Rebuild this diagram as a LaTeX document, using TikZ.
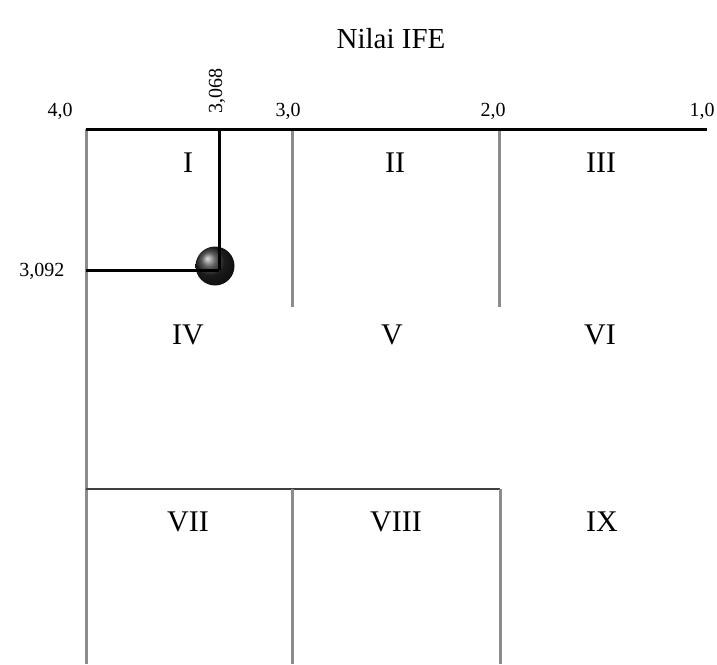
\documentclass[tikz,border=0pt]{standalone}
\usepackage{fontspec}
\setmainfont{Liberation Serif}
\begin{document}
\begin{tikzpicture}[x=1pt,y=-1pt,
		sumbu/.style={line width=3pt,draw=black},
		batas/.style={line width=3pt,draw=gray!90},
		garis/.style={line width=2.2pt,draw=black!75},
		sel/.style={font=\fontsize{30}{33}\selectfont},
		skala/.style={font=\fontsize{20}{22}\selectfont}]
				% Matriks IE
				\useasboundingbox (0,0) rectangle (717,664);
				\node[font=\fontsize{29}{32}\selectfont] (judul) at (391,39) {Nilai IFE};
				
				\coordinate (kiri) at (86,129);
				\coordinate (kanan) at (707,129);
				\coordinate (tiga) at (292,129);
				\coordinate (dua) at (499,129);
				\coordinate (pusat) at (219,270);
				
				\node[skala] (s40) at (60,111) {4,0};
				\node[skala] (s30) at (288,111) {3,0};
				\node[skala] (s20) at (493,111) {2,0};
				\node[skala] (s10) at (702,111) {1,0};
				\node[skala,rotate=90] (sx) at (217,91) {3,068};
				\node[skala] (sy) at (42,271) {3,092};
				
				\draw[batas] (kiri) -- (86,664);
				\draw[batas] (tiga) -- (292,307);
				\draw[batas] (dua) -- (499,307);
				\draw[garis] (86,489) -- (500,489);
				\draw[batas] (292,489) -- (292,664);
				\draw[batas] (500,489) -- (500,664);
				\draw[sumbu] (kiri) -- (kanan);
				
				\node[circle,minimum size=39pt,inner sep=0pt,ball color=gray!30!black] (titik) at (215,266) {};
				\draw[sumbu] (pusat |- kiri) -- (pusat);
				\draw[sumbu] (kiri |- pusat) -- (pusat);
				
				\node[sel] (I) at (188,163) {I};
				\node[sel] (II) at (395,163) {II};
				\node[sel] (III) at (601,163) {III};
				\node[sel] (IV) at (188,335) {IV};
				\node[sel] (V) at (392,335) {V};
				\node[sel] (VI) at (600,335) {VI};
				\node[sel] (VII) at (188,522) {VII};
				\node[sel] (VIII) at (396,522) {VIII};
				\node[sel] (IX) at (602,522) {IX};
				
				\end{tikzpicture}
\end{document}
